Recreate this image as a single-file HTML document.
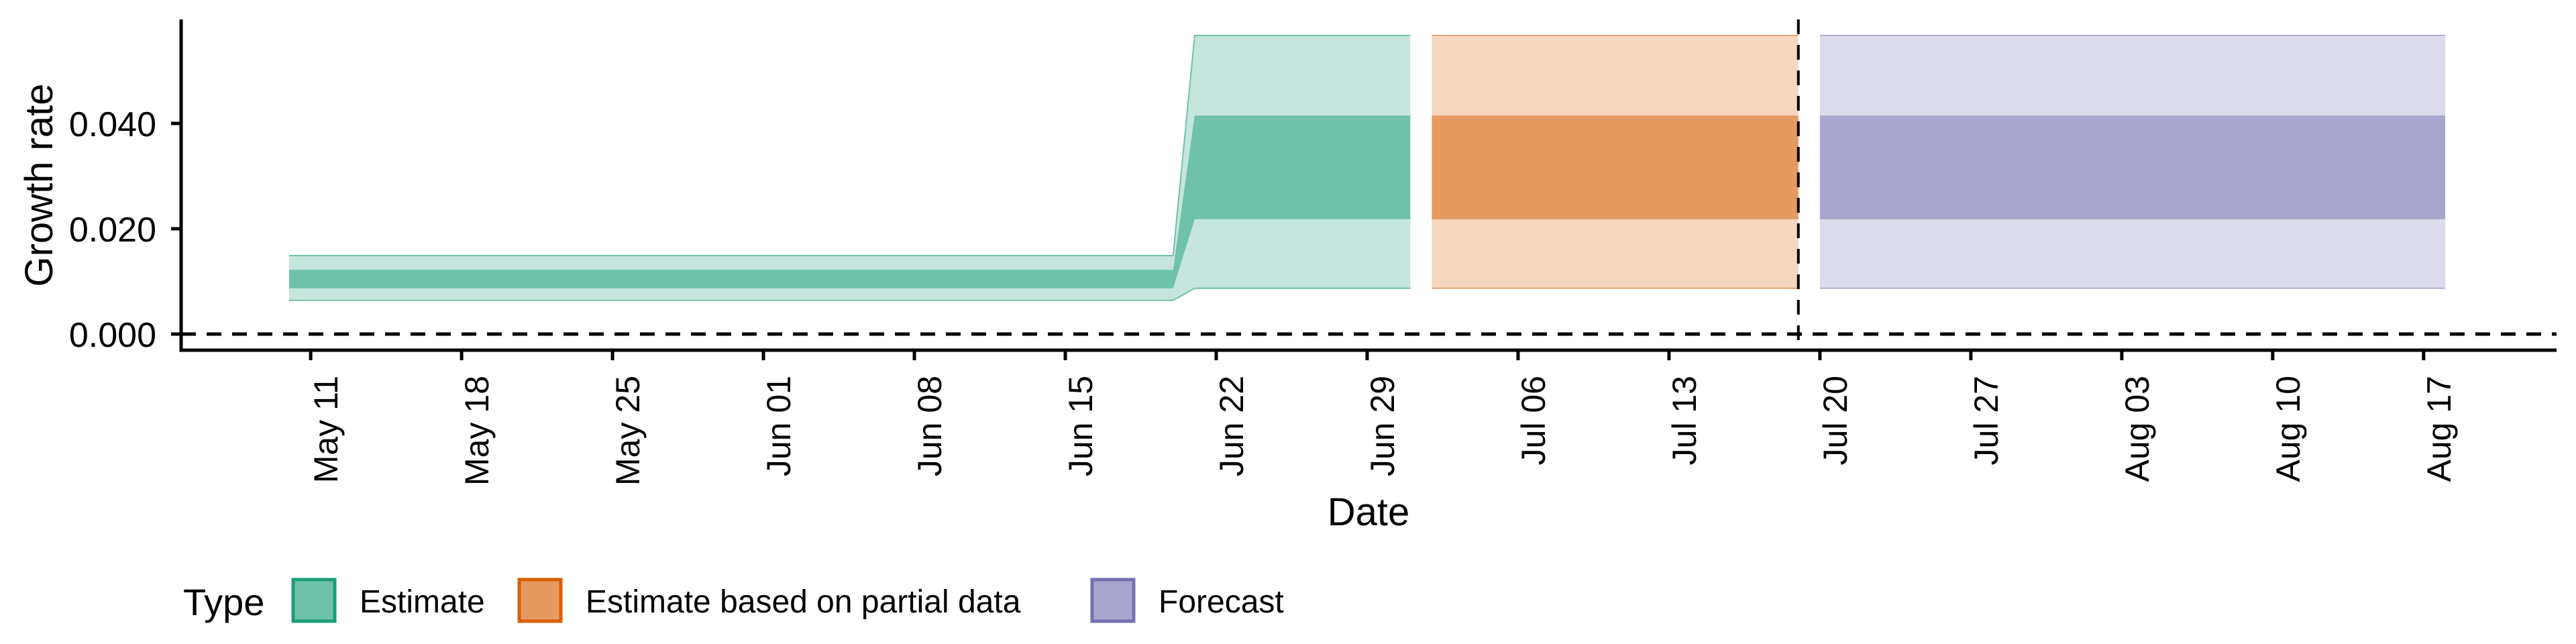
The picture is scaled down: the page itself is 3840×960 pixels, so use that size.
<!DOCTYPE html>
<html><head><meta charset="utf-8"><style>
html,body{margin:0;padding:0;background:#fff;}
svg{display:block;font-family:"Liberation Sans",Arial,sans-serif;}
</style></head><body>
<svg id="chart" width="3840" height="960" viewBox="0 0 3840 960" xmlns="http://www.w3.org/2000/svg">
<g id="plot"></g>
<g id="axes"></g>
<g id="legend"></g>
</svg>
<script>
// ---- data ----
const seriesNames = ["Estimate", "Estimate based on partial data", "Forecast"];
const estDates = ["2020-05-10", "2020-06-20", "2020-06-21", "2020-07-01"];
const estLow95 = [0.0064, 0.0064, 0.0087, 0.0087];
const estLow50 = [0.0087, 0.0087, 0.0218, 0.0218];
const estHigh50 = [0.0122, 0.0122, 0.0415, 0.0415];
const estHigh95 = [0.0149, 0.0149, 0.0567, 0.0567];
const partDates = ["2020-07-02", "2020-07-19"];
const partLow95 = [0.0087, 0.0087];
const partLow50 = [0.0218, 0.0218];
const partHigh50 = [0.0415, 0.0415];
const partHigh95 = [0.0567, 0.0567];
const fcDates = ["2020-07-20", "2020-08-18"];
const fcLow95 = [0.0087, 0.0087];
const fcLow50 = [0.0218, 0.0218];
const fcHigh50 = [0.0415, 0.0415];
const fcHigh95 = [0.0567, 0.0567];
const xTickDates = ["2020-05-11","2020-05-18","2020-05-25","2020-06-01","2020-06-08","2020-06-15","2020-06-22","2020-06-29","2020-07-06","2020-07-13","2020-07-20","2020-07-27","2020-08-03","2020-08-10","2020-08-17"];
const xTickLabels = ["May 11","May 18","May 25","Jun 01","Jun 08","Jun 15","Jun 22","Jun 29","Jul 06","Jul 13","Jul 20","Jul 27","Aug 03","Aug 10","Aug 17"];
const yTicks = [0, 0.02, 0.04];
const yTickLabels = ["0.000", "0.020", "0.040"];
const vlineDate = "2020-07-19";

// ---- scales ----
const NS = "http://www.w3.org/2000/svg";
const DAY = 86400000;
const refDate = Date.UTC(2020, 5, 22);
function dnum(s){const p=s.split("-");return Date.UTC(+p[0],+p[1]-1,+p[2]);}
function xS(s){return 1813 + (dnum(s)-refDate)/DAY*32.14;}
function yS(v){return 498 - v/0.02*157;}
const panelL=270, panelR=3811, panelT=29, panelB=522;

function mk(tag, attrs, parent){const e=document.createElementNS(NS,tag);for(const k in attrs)e.setAttribute(k,attrs[k]);parent.appendChild(e);return e;}
const plot=document.getElementById("plot"), axes=document.getElementById("axes"), legend=document.getElementById("legend");

function ribbon(dates, lo, hi, fill, stroke, name){
  let pts=[];
  for(let i=0;i<dates.length;i++)pts.push(xS(dates[i]).toFixed(1)+","+yS(hi[i]).toFixed(1));
  for(let i=dates.length-1;i>=0;i--)pts.push(xS(dates[i]).toFixed(1)+","+yS(lo[i]).toFixed(1));
  const p=mk("polygon",{points:pts.join(" "),fill:fill,stroke:"none"},plot);
  
  
  if(stroke){
    let a=dates.map((d,i)=>xS(d).toFixed(1)+","+yS(hi[i]).toFixed(1)).join(" ");
    let b=dates.map((d,i)=>xS(d).toFixed(1)+","+yS(lo[i]).toFixed(1)).join(" ");
    const l1=mk("polyline",{points:a,fill:"none",stroke:stroke,"stroke-width":2},plot);
    
    
    const l2=mk("polyline",{points:b,fill:"none",stroke:stroke,"stroke-width":2},plot);
    
    
  }
}
ribbon(estDates, estLow95, estHigh95, "#c5e6dd", "#70c1aa", "estimate-90-band");
ribbon(estDates, estLow50, estHigh50, "#70c1aa", null, "estimate-50-band");
ribbon(partDates, partLow95, partHigh95, "#f4d7be", "#e8a26f", "partial-90-band");
ribbon(partDates, partLow50, partHigh50, "#e59a62", null, "partial-50-band");
ribbon(fcDates, fcLow95, fcHigh95, "#dcdbeb", "#b0aed6", "forecast-90-band");
ribbon(fcDates, fcLow50, fcHigh50, "#a8a6cf", null, "forecast-50-band");

const zl=mk("line",{x1:panelL,x2:panelR,y1:yS(0),y2:yS(0),stroke:"#000","stroke-width":5,"stroke-dasharray":"22 16"},plot);


const vl=mk("line",{x1:xS(vlineDate),x2:xS(vlineDate),y1:panelT,y2:panelB,stroke:"#000","stroke-width":4,"stroke-dasharray":"22 16"},plot);



const ya=mk("line",{x1:panelL,x2:panelL,y1:panelT,y2:panelB+2.5,stroke:"#000","stroke-width":5},axes);


const xa=mk("line",{x1:panelL-2.5,x2:panelR,y1:panelB,y2:panelB,stroke:"#000","stroke-width":5},axes);



yTicks.forEach((v,i)=>{
  const t=mk("line",{x1:panelL-15,x2:panelL,y1:yS(v),y2:yS(v),stroke:"#000","stroke-width":5},axes);
  
  
  const tx=mk("text",{x:233,y:yS(v)+19,"text-anchor":"end","font-size":52,fill:"#000"},axes);
  tx.textContent=yTickLabels[i];
  
  
});
xTickDates.forEach((d,i)=>{
  const x=xS(d);
  const t=mk("line",{x1:x,x2:x,y1:panelB,y2:panelB+15,stroke:"#000","stroke-width":5},axes);
  
  
  const tx=mk("text",{x:0,y:0,"text-anchor":"end","font-size":50,fill:"#000",transform:"translate("+(x+40)+",560) rotate(-90)"},axes);
  tx.textContent=xTickLabels[i];
  
  
});
const xt=mk("text",{x:2040,y:783,"text-anchor":"middle","font-size":58,fill:"#000"},axes);
xt.textContent="Date";


const yt=mk("text",{x:0,y:0,"text-anchor":"middle","font-size":58,fill:"#000",transform:"translate(78,276) rotate(-90)"},axes);
yt.textContent="Growth rate";



const lt=mk("text",{x:273,y:917,"font-size":56,fill:"#000"},legend);
lt.textContent="Type";


const keyX=[437, 774, 1628];
const keyFill=["#70c1aa","#e59a62","#a8a6cf"];
const keyStroke=["#1b9e77","#d95f02","#7570b3"];
seriesNames.forEach((n,i)=>{
  const r=mk("rect",{x:keyX[i],y:864,width:62,height:62,fill:keyFill[i],stroke:keyStroke[i],"stroke-width":5},legend);
  
  
  const t=mk("text",{x:keyX[i]+99,y:913,"font-size":48,fill:"#000"},legend);
  t.textContent=n;
  
  
});
</script>
</body></html>
